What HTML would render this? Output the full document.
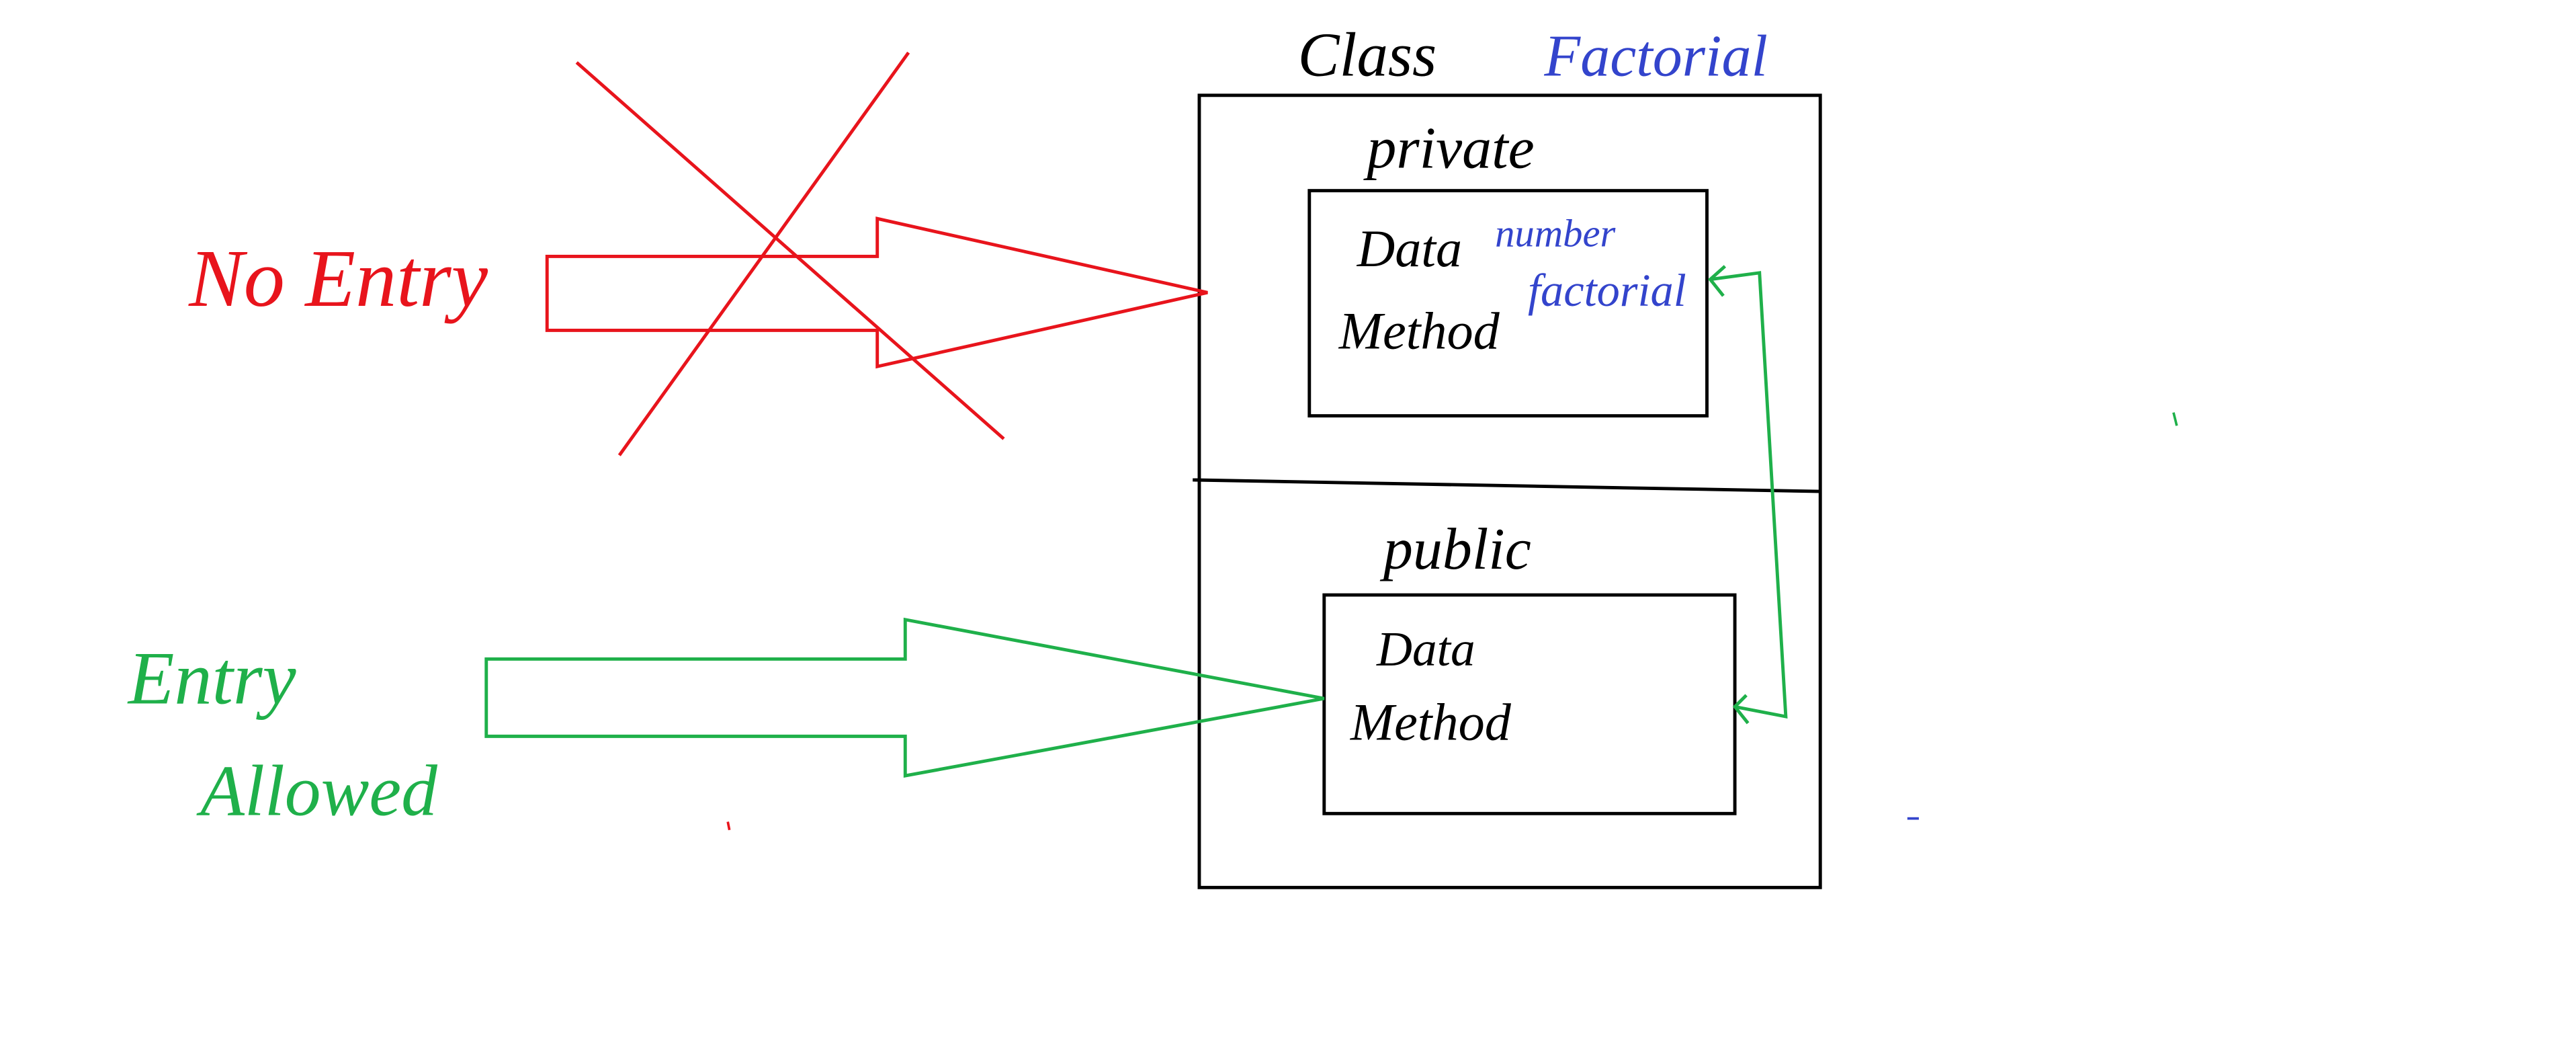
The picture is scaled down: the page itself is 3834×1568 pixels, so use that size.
<!DOCTYPE html>
<html><head><meta charset="utf-8"><style>
html,body{margin:0;padding:0;background:#fff;}
svg{display:block}
text{font-family:"Liberation Serif",serif;font-style:italic;}
</style></head><body>
<svg width="3834" height="1568" viewBox="0 0 1568 641.3" preserveAspectRatio="none" xmlns="http://www.w3.org/2000/svg">
<rect width="1568" height="641.3" fill="#fff"/>
<rect x="730" y="58" width="378" height="482" fill="none" stroke="#000" stroke-width="2"/>
<line x1="726" y1="292" x2="1108" y2="299" stroke="#000" stroke-width="2"/>
<rect x="797" y="116" width="242" height="137" fill="none" stroke="#000" stroke-width="2"/>
<rect x="806" y="362" width="250" height="133" fill="none" stroke="#000" stroke-width="2"/>
<polygon points="333,156 534,156 534,133 735,178 534,223 534,201 333,201" fill="none" stroke="#e8141c" stroke-width="2"/>
<line x1="351" y1="38" x2="611" y2="267" stroke="#e8141c" stroke-width="2"/>
<line x1="553" y1="32" x2="377" y2="277" stroke="#e8141c" stroke-width="2"/>
<polygon points="296,401 551,401 551,377 806,425 551,472 551,448 296,448" fill="none" stroke="#1fb04a" stroke-width="2"/>
<polyline points="1041,170 1071,166 1087,436 1056,430" fill="none" stroke="#1fb04a" stroke-width="2"/>
<polyline points="1050,162 1041,170 1049,180" fill="none" stroke="#1fb04a" stroke-width="2"/>
<polyline points="1063,423 1056,430 1064,440" fill="none" stroke="#1fb04a" stroke-width="2"/>
<line x1="1323" y1="251" x2="1325" y2="259" stroke="#1fb04a" stroke-width="1.5"/>
<line x1="1161" y1="498" x2="1168" y2="498" stroke="#3344cc" stroke-width="1.5"/>
<line x1="443" y1="500" x2="444" y2="505" stroke="#e8141c" stroke-width="1.5"/>
<text x="790" y="46" font-size="38" fill="#000">Class</text>
<text x="940" y="46" font-size="36" fill="#3344cc">Factorial</text>
<text x="832" y="102" font-size="36" fill="#000">private</text>
<text x="826" y="162" font-size="32" fill="#000">Data</text>
<text x="910" y="150" font-size="24" fill="#3344cc">number</text>
<text x="930" y="186" font-size="28" fill="#3344cc">factorial</text>
<text x="815" y="212" font-size="32" fill="#000">Method</text>
<text x="842" y="346" font-size="36" fill="#000">public</text>
<text x="838" y="405" font-size="30" fill="#000">Data</text>
<text x="822" y="450" font-size="32" fill="#000">Method</text>
<text x="115" y="186" font-size="50" fill="#e8141c">No Entry</text>
<text x="78" y="428" font-size="46" fill="#1fb04a">Entry</text>
<text x="122" y="496" font-size="44" fill="#1fb04a">Allowed</text>
</svg>
</body></html>
